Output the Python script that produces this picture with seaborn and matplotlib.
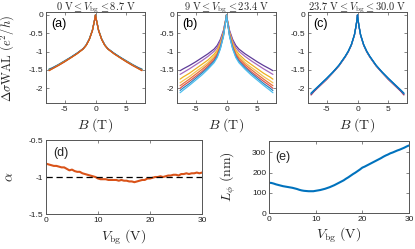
import numpy as np
import matplotlib
matplotlib.use("Agg")
import matplotlib.pyplot as plt
import seaborn as sns

# ---------------- data ----------------
B_half = [0, 0.1, 0.25, 0.5, 1, 1.5, 2, 3, 4, 5, 6, 7, 7.5]

curves_a = [
    [0, -0.10, -0.22, -0.42, -0.66, -0.82, -0.92, -1.04, -1.15, -1.25, -1.35, -1.44, -1.47],
    [0, -0.10, -0.22, -0.42, -0.66, -0.82, -0.92, -1.05, -1.16, -1.26, -1.36, -1.45, -1.48],
    [0, -0.10, -0.22, -0.42, -0.66, -0.82, -0.92, -1.05, -1.16, -1.26, -1.36, -1.45, -1.49],
    [0, -0.10, -0.22, -0.42, -0.66, -0.82, -0.93, -1.05, -1.16, -1.27, -1.37, -1.46, -1.50],
    [0, -0.10, -0.22, -0.42, -0.67, -0.83, -0.93, -1.06, -1.17, -1.27, -1.37, -1.47, -1.51],
    [0, -0.10, -0.22, -0.43, -0.67, -0.83, -0.93, -1.06, -1.17, -1.28, -1.38, -1.47, -1.52],
]
colors_a = ['#4DBEEE', '#77AC30', '#7E2F8E', '#0072BD', '#EDB120', '#D95319']

curves_b = [
    [0, -0.10, -0.22, -0.43, -0.67, -0.83, -0.93, -1.06, -1.17, -1.28, -1.38, -1.47, -1.52],
    [0, -0.11, -0.24, -0.45, -0.71, -0.89, -0.99, -1.13, -1.25, -1.36, -1.47, -1.57, -1.62],
    [0, -0.12, -0.26, -0.49, -0.77, -0.96, -1.07, -1.23, -1.35, -1.47, -1.59, -1.69, -1.75],
    [0, -0.12, -0.27, -0.52, -0.81, -1.01, -1.13, -1.30, -1.43, -1.55, -1.68, -1.79, -1.85],
    [0, -0.13, -0.28, -0.54, -0.85, -1.06, -1.18, -1.35, -1.49, -1.62, -1.75, -1.87, -1.93],
    [0, -0.13, -0.29, -0.56, -0.88, -1.09, -1.23, -1.40, -1.55, -1.68, -1.81, -1.93, -2.00],
    [0, -0.14, -0.30, -0.58, -0.91, -1.13, -1.26, -1.44, -1.59, -1.73, -1.87, -1.99, -2.06],
    [0, -0.14, -0.31, -0.59, -0.93, -1.16, -1.30, -1.48, -1.64, -1.78, -1.92, -2.05, -2.12],
]
colors_b = ['#5E3C99', '#A569BD', '#EDB120', '#F2C14E', '#E8743B', '#D9534F', '#2E86C1', '#4DBEEE']

curves_c = [
    [0, -0.15, -0.32, -0.55, -0.83, -1.01, -1.15, -1.39, -1.58, -1.76, -1.92, -2.08, -2.18],
    [0, -0.15, -0.32, -0.55, -0.82, -1.00, -1.14, -1.38, -1.57, -1.75, -1.91, -2.07, -2.16],
    [0, -0.15, -0.32, -0.55, -0.82, -1.00, -1.14, -1.38, -1.57, -1.74, -1.90, -2.06, -2.15],
    [0, -0.15, -0.31, -0.54, -0.81, -0.99, -1.13, -1.37, -1.56, -1.73, -1.89, -2.05, -2.14],
    [0, -0.15, -0.31, -0.54, -0.81, -0.99, -1.13, -1.37, -1.56, -1.73, -1.89, -2.05, -2.13],
]
colors_c = ['#A2142F', '#7E2F8E', '#4DBEEE', '#2E86C1', '#0072BD']

Vbg = [i * 0.5 for i in range(61)]
alpha = [-0.82, -0.83, -0.84, -0.85, -0.85, -0.86, -0.87, -0.87, -0.89, -0.91,
         -0.90, -0.92, -0.93, -0.93, -0.95, -0.96, -0.97, -0.98, -0.99, -1.00,
         -1.02, -1.03, -1.03, -1.03, -1.04, -1.04, -1.04, -1.04, -1.05, -1.04,
         -1.05, -1.05, -1.06, -1.06, -1.07, -1.06, -1.05, -1.04, -1.04, -1.02,
         -1.02, -1.01, -1.00, -1.00, -0.99, -1.00, -0.99, -0.98, -0.98, -0.97,
         -0.97, -0.98, -0.96, -0.96, -0.95, -0.96, -0.95, -0.95, -0.94, -0.95,
         -0.94]
Lphi = [150, 149, 146, 142, 139, 136, 133, 131, 129, 127,
        125, 122, 119, 115, 112, 110, 109, 108, 108, 108,
        110, 112, 114, 117, 120, 124, 128, 133, 138, 144,
        150, 156, 162, 170, 177, 185, 193, 200, 208, 216,
        225, 230, 236, 242, 248, 254, 260, 266, 272, 279,
        285, 290, 296, 300, 305, 310, 314, 319, 324, 330,
        335]

titles = [r"$0\ \mathrm{V} \leq V_\mathrm{bg} \leq 8.7\ \mathrm{V}$",
          r"$9\ \mathrm{V} \leq V_\mathrm{bg} \leq 23.4\ \mathrm{V}$",
          r"$23.7\ \mathrm{V} \leq V_\mathrm{bg} \leq 30.0\ \mathrm{V}$"]
panel_labels = ["(a)", "(b)", "(c)", "(d)", "(e)"]

# ---------------- style ----------------
sns.set_theme(style="white")
plt.rcParams['font.family'] = ['Liberation Sans', 'DejaVu Sans']
plt.rcParams['mathtext.fontset'] = 'cm'
plt.rcParams['axes.unicode_minus'] = False

W, H = 415, 249
fig = plt.figure(figsize=(W / 100, H / 100), dpi=100)


def box(x0, y0, x1, y1):
    return [x0 / W, 1 - y1 / H, (x1 - x0) / W, (y1 - y0) / H]


EDGE = '#555555'


def style_ax(ax):
    for s in ax.spines.values():
        s.set_visible(True)
        s.set_color(EDGE)
        s.set_linewidth(0.7)
    ax.tick_params(direction='in', length=2, width=0.5, colors=EDGE,
                   labelcolor='#222222', labelsize=6, pad=2,
                   top=True, right=True, bottom=True, left=True)


def mirror(v):
    v = np.asarray(v, dtype=float)
    return np.concatenate([v[:0:-1], v])


B_full = np.concatenate([-np.asarray(B_half[:0:-1], dtype=float), np.asarray(B_half, dtype=float)])

tops = [(46, 145), (177, 276), (308, 407)]
sets = [(curves_a, colors_a), (curves_b, colors_b), (curves_c, colors_c)]
for k in range(3):
    x0, x1 = tops[k]
    ax = fig.add_axes(box(x0, 12, x1, 103))
    curves, cols = sets[k]
    for vals, c in zip(curves, cols):
        sns.lineplot(x=B_full, y=mirror(vals), ax=ax, color=c, lw=0.9,
                     estimator=None, sort=False)
    ax.set_xlim(-8, 8)
    ax.set_ylim(-2.4, 0.08)
    ax.set_xticks([-5, 0, 5])
    ax.set_xticklabels(["-5", "0", "5"])
    ax.set_yticks([0, -0.5, -1, -1.5, -2])
    ax.set_yticklabels(["0", "-0.5", "-1", "-1.5", "-2"])
    style_ax(ax)
    ax.set_xlabel(r"$B\ (\mathrm{T})$", fontsize=10, labelpad=0)
    ax.xaxis.set_label_coords(0.5, -0.14, transform=ax.transAxes)
    ax.xaxis.label.set_va('top')
    if k == 0:
        ax.set_ylabel(r"$\Delta\sigma\mathrm{WAL}\ (e^2/h)$", fontsize=9)
        ax.yaxis.set_label_coords(-0.3, 0.49)
    else:
        ax.set_ylabel("")
    ax.set_title(titles[k], fontsize=7.5, pad=1)
    ax.text(0.05, 0.93, panel_labels[k], transform=ax.transAxes,
            fontsize=9, va='top', ha='left', color='black')

# (d)
axd = fig.add_axes(box(46, 140, 202, 214))
sns.lineplot(x=Vbg, y=alpha, ax=axd, color='#D95319', lw=1.5, estimator=None)
axd.axhline(-1, color='black', lw=0.9, ls=(0, (5, 3)))
axd.set_xlim(0, 30)
axd.set_ylim(-1.5, -0.5)
axd.set_xticks([0, 10, 20, 30])
axd.set_yticks([-0.5, -1, -1.5])
axd.set_yticklabels(["-0.5", "-1", "-1.5"])
style_ax(axd)
axd.set_xlabel(r"$V_\mathrm{bg}\ (\mathrm{V})$", fontsize=10)
axd.xaxis.set_label_coords(0.5, -0.18)
axd.xaxis.label.set_va('top')
axd.set_ylabel(r"$\alpha$", fontsize=10)
axd.yaxis.set_label_coords(-0.19, 0.5)
axd.text(0.045, 0.91, panel_labels[3], transform=axd.transAxes,
         fontsize=9, va='top', ha='left')

# (e)
axe = fig.add_axes(box(269, 141, 409, 213))
sns.lineplot(x=Vbg, y=Lphi, ax=axe, color='#0072BD', lw=1.5, estimator=None)
axe.set_xlim(0, 30)
axe.set_ylim(0, 357)
axe.set_xticks([0, 10, 20, 30])
axe.set_yticks([0, 100, 200, 300])
style_ax(axe)
axe.set_xlabel(r"$V_\mathrm{bg}\ (\mathrm{V})$", fontsize=10)
axe.xaxis.set_label_coords(0.5, -0.18)
axe.xaxis.label.set_va('top')
axe.set_ylabel(r"$L_\phi\ (\mathrm{nm})$", fontsize=10)
axe.yaxis.set_label_coords(-0.22, 0.5)
axe.text(0.043, 0.86, panel_labels[4], transform=axe.transAxes,
         fontsize=9, va='top', ha='left')

fig.savefig("out.png", dpi=100)
